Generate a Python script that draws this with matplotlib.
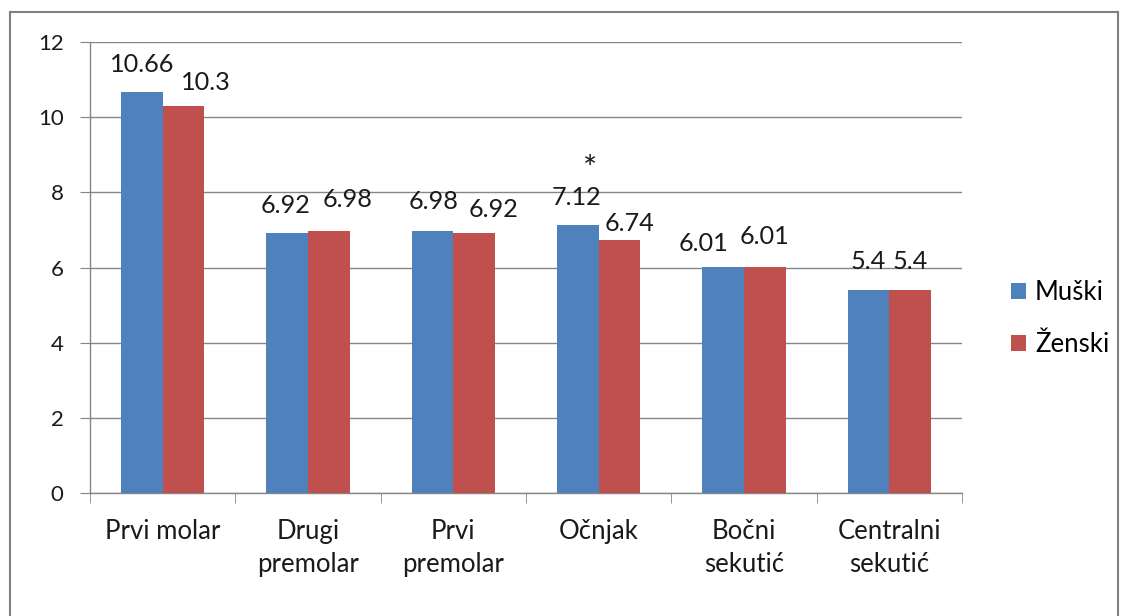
import matplotlib.pyplot as plt
from matplotlib.patches import Rectangle, Patch
import numpy as np

categories = ["Prvi molar", "Drugi\npremolar", "Prvi\npremolar", "Očnjak", "Bočni\nsekutić", "Centralni\nsekutić"]
muski = [10.66, 6.92, 6.98, 7.12, 6.01, 5.4]
zenski = [10.3, 6.98, 6.92, 6.74, 6.01, 5.4]
series_names = ["Muški", "Ženski"]
yticks = [0, 2, 4, 6, 8, 10, 12]

# hand-placed label nudges (pixels) so neighbouring labels don't collide
nudge_m = [(0, 0), (-2, 0), (1, 2), (-1, 0), (-20, -4), (0, 1)]
nudge_z = [(22, -4), (19, 4), (19, -4), (10, -11), (0, 3), (0, 1)]

blue = "#4F81BD"
red = "#C0504D"
grid_col = "#868686"
txt = "#1a1a1a"

plt.rcParams['font.family'] = ['Lato', 'DejaVu Sans']
px = 0.72  # points per pixel at 100 dpi

fig = plt.figure(figsize=(11.23, 6.16), dpi=100)
ax = fig.add_axes([90 / 1123, 1 - 493 / 616, 872 / 1123, 451 / 616])

x = np.arange(len(categories))
w = 0.287
b1 = ax.bar(x - w / 2, muski, w, color=blue, zorder=3)
b2 = ax.bar(x + w / 2, zenski, w, color=red, zorder=3)

for bars, vals, nudges in ((b1, muski, nudge_m), (b2, zenski, nudge_z)):
    for bar, v, (dx, dy) in zip(bars, vals, nudges):
        ax.annotate(f"{v:g}", (bar.get_x() + bar.get_width() / 2, v),
                    xytext=(dx * px, (20 + dy) * px), textcoords="offset points",
                    ha="center", va="baseline", fontsize=18.2, color=txt)

# significance mark above Očnjak
ax.annotate("*", (b1[3].get_x() + b1[3].get_width() / 2, muski[3]),
            xytext=(12 * px, 46 * px), textcoords="offset points",
            ha="center", va="baseline", fontsize=24, color=txt)

ax.set_xlim(-0.5, len(categories) - 0.5)
ax.set_ylim(0, 12)
ax.set_yticks(yticks)
ax.yaxis.grid(True, color=grid_col, linewidth=1, zorder=0)
ax.tick_params(axis='y', length=7, color=grid_col, pad=12, labelsize=16, labelcolor=txt)

ax.set_xticks(x)
ax.set_xticklabels(categories, fontsize=18.5, color=txt, linespacing=1.4)
ax.set_xticks(np.arange(len(categories) + 1) - 0.5, minor=True)
ax.tick_params(axis='x', which='major', length=0, pad=19)
ax.tick_params(axis='x', which='minor', length=7, color=grid_col, direction='out')

for s in ("top", "right"):
    ax.spines[s].set_visible(False)
for s in ("left", "bottom"):
    ax.spines[s].set_color(grid_col)
    ax.spines[s].set_linewidth(1)

handles = [Patch(facecolor=blue), Patch(facecolor=red)]
fig.legend(handles, series_names, loc="center left",
           bbox_to_anchor=(1011 / 1123, 1 - 318.5 / 616), frameon=False,
           fontsize=18.5, handlelength=0.58, handleheight=0.58,
           handletextpad=0.35, labelspacing=1.05,
           borderpad=0, borderaxespad=0)

# chart area border
fig.patches.append(Rectangle((10 / 1123, -0.05), 1108 / 1123, 1.05 - 12 / 616,
                             transform=fig.transFigure, fill=False,
                             edgecolor="#7f7f7f", linewidth=1.5))

fig.savefig("out.png", dpi=100)
